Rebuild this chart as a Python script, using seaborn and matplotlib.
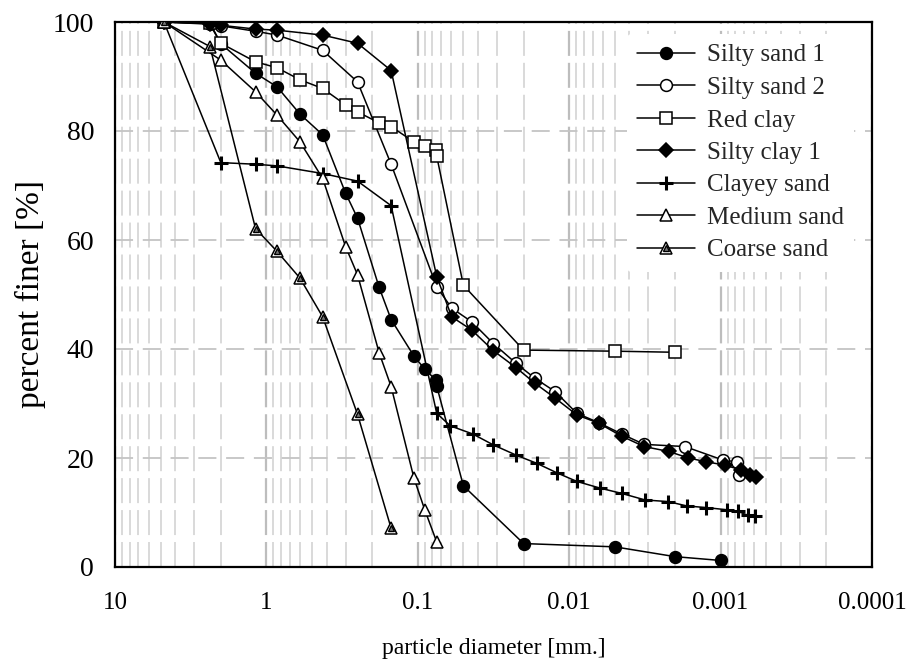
import numpy as np
import matplotlib
matplotlib.use("Agg")
import matplotlib.pyplot as plt
from matplotlib.ticker import FixedLocator, FixedFormatter, LogLocator, NullFormatter
from matplotlib.legend_handler import HandlerTuple
import seaborn as sns

# ---------------- data ----------------
series_names = ["Silty sand 1", "Silty sand 2", "Red clay", "Silty clay 1",
                "Clayey sand", "Medium sand", "Coarse sand"]

silty_sand_1_d = [4.75, 2.36, 2.0, 1.18, 0.85, 0.6, 0.425, 0.3, 0.25, 0.18, 0.15,
                  0.106, 0.09, 0.076, 0.075, 0.05, 0.02, 0.005, 0.002, 0.001]
silty_sand_1_p = [100, 99.6, 96.0, 90.6, 88.1, 83.1, 79.3, 68.6, 64.0, 51.3, 45.4,
                  38.7, 36.3, 34.3, 33.2, 14.9, 4.3, 3.7, 1.9, 1.2]

silty_sand_2_d = [4.75, 2.36, 2.0, 1.18, 0.85, 0.425, 0.25, 0.15, 0.075, 0.0597,
                  0.0441, 0.0317, 0.0225, 0.0168, 0.0124, 0.0089, 0.0064, 0.0045,
                  0.0032, 0.00172, 0.00096, 0.00078, 0.00076]
silty_sand_2_p = [100, 99.8, 99.3, 98.3, 97.6, 94.8, 89.0, 73.9, 51.4, 47.5,
                  45.0, 41.0, 37.4, 34.6, 32.2, 28.2, 26.5, 24.4,
                  22.5, 22.1, 19.6, 19.3, 16.9]

red_clay_d = [4.75, 2.36, 2.0, 1.18, 0.85, 0.6, 0.425, 0.3, 0.25, 0.18, 0.15,
              0.106, 0.09, 0.076, 0.075, 0.05, 0.02, 0.005, 0.002]
red_clay_p = [100, 99.8, 96.1, 92.7, 91.6, 89.4, 87.8, 84.8, 83.5, 81.5, 80.8,
              78.0, 77.2, 76.5, 75.4, 51.7, 39.8, 39.6, 39.4]

silty_clay_1_d = [4.75, 2.36, 2.0, 1.18, 0.85, 0.425, 0.25, 0.15, 0.075, 0.0597,
                  0.0441, 0.0317, 0.0225, 0.0168, 0.0124, 0.0089, 0.0064, 0.0045,
                  0.0032, 0.0022, 0.00163, 0.00124, 0.00094, 0.00073, 0.00064, 0.00058]
silty_clay_1_p = [100, 99.7, 99.4, 98.7, 98.5, 97.6, 96.1, 91.1, 53.3, 45.9,
                  43.5, 39.7, 36.6, 33.7, 31.0, 27.9, 26.4, 24.0,
                  22.1, 21.2, 20.0, 19.3, 18.7, 17.8, 16.9, 16.6]

clayey_sand_d = [4.75, 2.0, 1.18, 0.85, 0.425, 0.25, 0.15, 0.075, 0.061, 0.0433,
                 0.0317, 0.0223, 0.0163, 0.0121, 0.0089, 0.0063, 0.0045, 0.00315,
                 0.00222, 0.00167, 0.00124, 0.00091, 0.00077, 0.00066, 0.00059]
clayey_sand_p = [100, 74.2, 73.9, 73.6, 72.2, 70.8, 66.3, 28.2, 25.9, 24.4,
                 22.4, 20.5, 19.0, 17.3, 15.7, 14.5, 13.5, 12.3,
                 12.0, 11.2, 10.9, 10.5, 10.2, 9.5, 9.4]

medium_sand_d = [4.75, 2.0, 1.18, 0.85, 0.6, 0.425, 0.3, 0.25, 0.18, 0.15, 0.106, 0.09, 0.075]
medium_sand_p = [100, 93.0, 87.2, 82.9, 78.0, 71.3, 58.8, 53.6, 39.3, 33.1, 16.3, 10.5, 4.6]

coarse_sand_d = [4.75, 2.36, 1.18, 0.85, 0.6, 0.425, 0.25, 0.15]
coarse_sand_p = [100, 95.5, 62.1, 57.9, 53.0, 45.9, 28.0, 7.1]

x_ticks = [10, 1, 0.1, 0.01, 0.001, 0.0001]
x_tick_labels = ["10", "1", "0.1", "0.01", "0.001", "0.0001"]
y_ticks = [0, 20, 40, 60, 80, 100]
y_tick_labels = ["0", "20", "40", "60", "80", "100"]
x_label = "particle diameter [mm.]"
y_label = "percent finer [%]"

# ---------------- style ----------------
sns.set_theme(style="white")
plt.rcParams["font.family"] = ["Liberation Serif", "DejaVu Serif"]
plt.rcParams["lines.scale_dashes"] = False

fig = plt.figure(figsize=(9.06, 6.62), dpi=100)
ax = fig.add_axes([115 / 906, 1 - 567 / 662, (872 - 115) / 906, (567 - 22) / 662])

common = dict(ax=ax, color="black", linewidth=1.1, estimator=None, sort=False,
              markeredgecolor="black", markeredgewidth=1.1, zorder=3)

h1 = sns.lineplot(x=silty_sand_1_d, y=silty_sand_1_p, marker="o", markersize=8.5,
                  markerfacecolor="black", **common).lines[-1]
h2 = sns.lineplot(x=silty_sand_2_d, y=silty_sand_2_p, marker="o", markersize=8.5,
                  markerfacecolor="white", **common).lines[-1]
h3 = sns.lineplot(x=red_clay_d, y=red_clay_p, marker="s", markersize=8.5,
                  markerfacecolor="white", **common).lines[-1]
h4 = sns.lineplot(x=silty_clay_1_d, y=silty_clay_1_p, marker="D", markersize=7.5,
                  markerfacecolor="black", **common).lines[-1]
common_plus = dict(common)
common_plus["markeredgewidth"] = 2.2
h5 = sns.lineplot(x=clayey_sand_d, y=clayey_sand_p, marker="+", markersize=10,
                  **common_plus).lines[-1]
h6 = sns.lineplot(x=medium_sand_d, y=medium_sand_p, marker="^", markersize=8.5,
                  markerfacecolor="white", **common).lines[-1]
h7 = sns.lineplot(x=coarse_sand_d, y=coarse_sand_p, marker="^", markersize=8.5,
                  markerfacecolor="white", **common).lines[-1]
inner = dict(common)
inner["linewidth"] = 0
inner["markeredgewidth"] = 1.0
inner["zorder"] = 4
h7b = sns.lineplot(x=coarse_sand_d, y=coarse_sand_p, marker="^", markersize=4.5,
                   markerfacecolor="#777777", **inner).lines[-1]

ax.set_xscale("log")
ax.set_xlim(10, 0.0001)
ax.set_ylim(0, 100)
ax.xaxis.set_major_locator(FixedLocator(x_ticks))
ax.xaxis.set_major_formatter(FixedFormatter(x_tick_labels))
ax.xaxis.set_minor_locator(LogLocator(base=10, subs=np.arange(2, 10), numticks=20))
ax.xaxis.set_minor_formatter(NullFormatter())
ax.yaxis.set_major_locator(FixedLocator(y_ticks))
ax.yaxis.set_major_formatter(FixedFormatter(y_tick_labels))

ax.tick_params(axis="both", which="major", direction="out", length=6, width=1.2,
               color="black", labelcolor="black")
ax.tick_params(axis="x", which="major", pad=12, labelsize=18)
ax.tick_params(axis="y", which="major", pad=9, labelsize=20)
ax.tick_params(axis="x", which="minor", length=0)
ax.tick_params(top=False, right=False)

ax.yaxis.grid(True, which="major", color="#c4c4c4", linewidth=1.3,
              linestyle=(0, (13, 7)))
ax.xaxis.grid(True, which="major", color="#bdbdbd", linewidth=1.6,
              linestyle=(0, (18, 5)))
ax.xaxis.grid(True, which="minor", color="#cfcfcf", linewidth=1.1,
              linestyle=(0, (18, 5)))
ax.set_axisbelow(True)

for s in ax.spines.values():
    s.set_visible(True)
    s.set_color("black")
    s.set_linewidth(1.6)

ax.set_xlabel(x_label, fontsize=17, labelpad=17, color="black")
ax.set_ylabel(y_label, fontsize=24, labelpad=5, color="black")

handles = [h1, h2, h3, h4, h5, h6, (h7, h7b)]
leg = ax.legend(handles, series_names, loc="upper left",
                bbox_to_anchor=((627 - 115) / 757, (567 - 34) / 545),
                borderaxespad=0, frameon=True, fontsize=18, handlelength=2.3,
                handletextpad=0.5, labelspacing=0.4, borderpad=0.4,
                handler_map={tuple: HandlerTuple(ndivide=1, pad=0)})
leg.get_frame().set_edgecolor("none")
leg.get_frame().set_facecolor("white")
leg.get_frame().set_alpha(1)
leg.set_zorder(5)

fig.savefig("out.png", dpi=100)
